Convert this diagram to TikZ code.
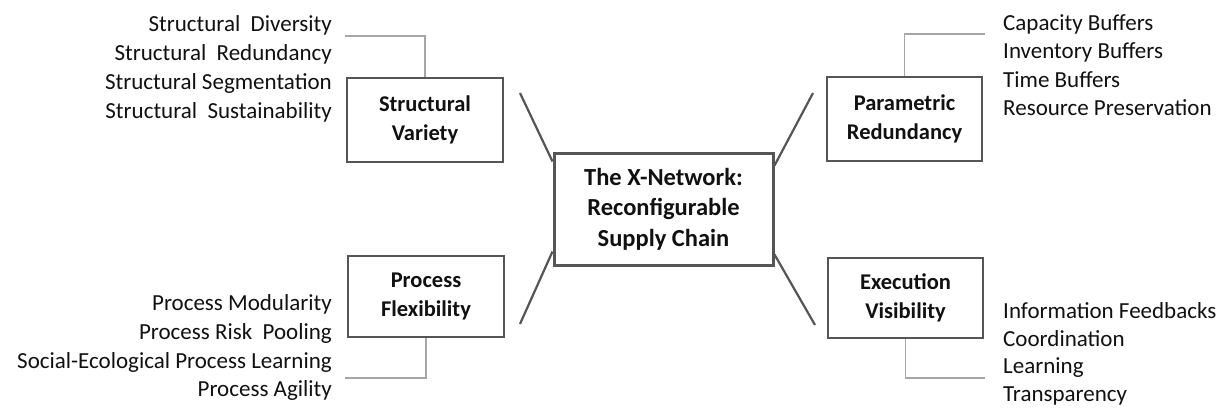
\documentclass[tikz,border=0pt]{standalone}
\usepackage{fontspec}
\setmainfont{Carlito}
\definecolor{boxline}{HTML}{555555}
\definecolor{lightline}{HTML}{A6A6A6}
\definecolor{txt}{HTML}{111111}
\tikzset{
  satbox/.style={draw=boxline, line width=2.4pt, fill=white, minimum width=155pt, minimum height=82pt,
    inner sep=0pt, align=center, text=txt, font=\fontsize{22.5}{29}\selectfont\bfseries},
  hubbox/.style={draw=boxline, line width=3pt, fill=white, minimum width=219pt, minimum height=112pt,
    inner sep=0pt, align=center, text=txt, font=\fontsize{24.5}{30.5}\selectfont\bfseries},
  itemL/.style={anchor=east, inner sep=0pt, text=txt, font=\fontsize{23}{29}\selectfont},
  itemR/.style={anchor=west, inner sep=0pt, text=txt, font=\fontsize{23}{29}\selectfont},
  leader/.style={draw=lightline, line width=1.6pt},
  spoke/.style={draw=boxline, line width=2.2pt},
}
\begin{document}
\begin{tikzpicture}[x=1pt,y=-1pt]
\useasboundingbox[fill=white] (0,0) rectangle (1223,408);

% boxes
\node[hubbox] (hub) at (663.5,209) {The X-Network:\\Reconfigurable\\Supply Chain};
\node[satbox, minimum width=156pt, minimum height=84pt] (sv) at (425,120) {Structural\\Variety};
\node[satbox, minimum width=155pt, minimum height=84pt] (pr) at (904.5,119) {Parametric\\Redundancy};
\node[satbox, minimum width=156pt, minimum height=81pt] (pf) at (426,296.5) {Process\\Flexibility};
\node[satbox, minimum width=155pt, minimum height=80pt] (ev) at (905.5,298) {Execution\\Visibility};

% item lists
\node[itemL] (sv1) at (332,25) {Structural\ \ Diversity};
\node[itemL] (sv2) at (332,54) {Structural\ \ Redundancy};
\node[itemL] (sv3) at (332,83) {Structural Segmentation};
\node[itemL] (sv4) at (332,112) {Structural\ \ Sustainability};

\node[itemR] (pr1) at (1003,24) {Capacity Buffers};
\node[itemR] (pr2) at (1003,52) {Inventory Buffers};
\node[itemR] (pr3) at (1003,80) {Time Buffers};
\node[itemR] (pr4) at (1003,108) {Resource Preservation};

\node[itemL] (pf1) at (332,304) {Process Modularity};
\node[itemL] (pf2) at (332,333) {Process Risk\ \ Pooling};
\node[itemL] (pf3) at (332,362) {Social-Ecological Process Learning};
\node[itemL] (pf4) at (332,390) {Process Agility};

\node[itemR] (ev1) at (1003,311) {Information Feedbacks};
\node[itemR] (ev2) at (1003,339) {Coordination};
\node[itemR] (ev3) at (1003,368) {Learning};
\node[itemR] (ev4) at (1003,396) {Transparency};

% leader ends
\coordinate (svlead) at (345,36);
\coordinate (prlead) at (985,34);
\coordinate (pflead) at (345,378);
\coordinate (evlead) at (985,378);

\draw[leader] (sv.north) |- (svlead);
\draw[leader] (pr.north) |- (prlead);
\draw[leader] (pf.south) |- (pflead);
\draw[leader] (ev.south) |- (evlead);

% spokes
\coordinate (ulend) at (520,93);
\coordinate (urend) at (813,93);
\coordinate (llend) at (520,324);
\coordinate (lrend) at (815,325);

\draw[spoke] (ulend) -- ([yshift=-10pt]hub.north west);
\draw[spoke] (urend) -- ([yshift=-14pt]hub.north east);
\draw[spoke] (llend) -- ([yshift=15pt]hub.south west);
\draw[spoke] (lrend) -- ([yshift=12pt]hub.south east);
\end{tikzpicture}
\end{document}
